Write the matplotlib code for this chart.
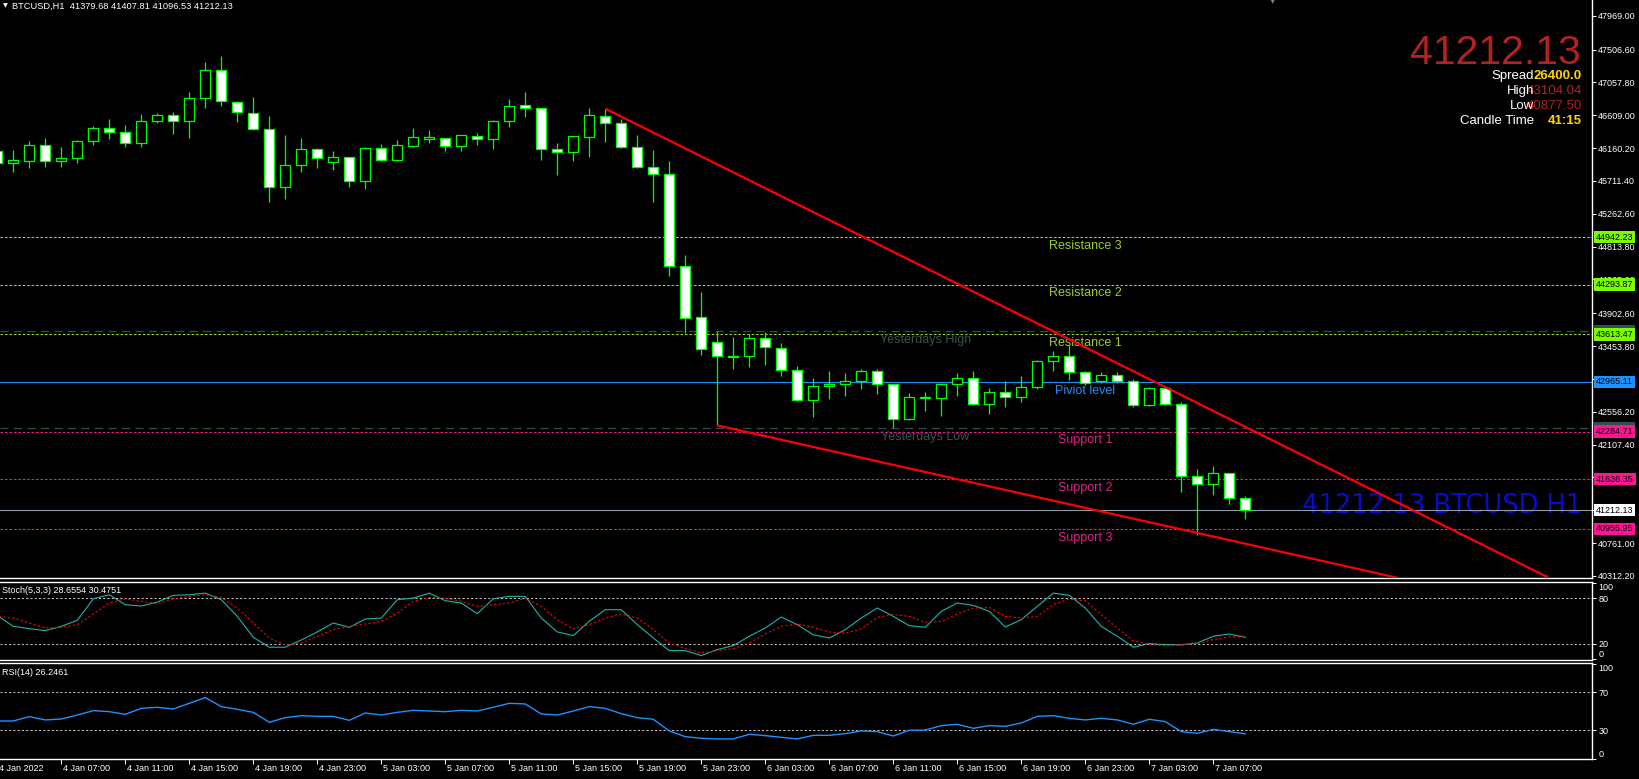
import numpy as np
import matplotlib
matplotlib.use('Agg')
import matplotlib.pyplot as plt
from matplotlib.transforms import blended_transform_factory

plt.rcParams['font.family'] = ['Liberation Sans', 'DejaVu Sans']

W, H = 1639, 779

# BTCUSD H1 candles, first bar = 4 Jan 2022 03:00
opens = [46116, 45952, 45979, 46198, 45979, 46020, 46253, 46430, 46376, 46225,
         46526, 46608, 46526, 46840, 47223, 46786, 46635, 46417, 45624, 45925,
         46143, 45966, 46034, 45706, 46157, 45993, 46184, 46290, 46294, 46184,
         46321, 46280, 46526, 46745, 46704, 46143, 46102, 46307, 46594, 46499,
         46171, 45897, 45802, 44544, 43847, 43506, 43314, 43314, 43560, 43424,
         43123, 42713, 42904, 42932, 42973, 43109, 42932, 42453, 42745, 42740,
         42932, 43014, 42658, 42822, 42754, 42891, 43246, 43314, 43096, 42973,
         43055, 42973, 42645, 42877, 42658, 41674, 41565, 41715, 41379.68]
highs = [46161, 46134, 46257, 46298, 46175, 46270, 46462, 46557, 46475, 46626,
         46639, 46653, 46926, 47336, 47418, 46803, 46858, 46598, 46339, 46298,
         46161, 46120, 46040, 46175, 46216, 46270, 46434, 46407, 46300, 46340,
         46362, 46544, 46831, 46926, 46710, 46225, 46325, 46708, 46698, 46553,
         46335, 46130, 45979, 44695, 44189, 43655, 43574, 43615, 43642, 43492,
         43178, 43014, 43114, 43082, 43137, 43137, 42940, 42809, 42822, 42940,
         43082, 43114, 42877, 42973, 43041, 43260, 43383, 43465, 43109, 43104.04,
         43100, 43000, 42891, 42891, 42686, 41770, 41815, 41720, 41407.81]
lows = [45915, 45837, 45892, 45905, 45905, 45960, 46206, 46288, 46179, 46179,
        46507, 46356, 46302, 46712, 46739, 46520, 46410, 45427, 45468, 45837,
        45892, 45864, 45632, 45605, 45985, 45985, 46180, 46234, 46124, 46124,
        46206, 46151, 46452, 46589, 46001, 45796, 45987, 46042, 46247, 46157,
        45890, 45427, 44416, 43629, 43328, 42370, 43137, 43164, 43191, 43041,
        42699, 42489, 42727, 42776, 42872, 42803, 42331, 42445, 42571, 42503,
        42776, 42645, 42530, 42626, 42686, 42863, 43109, 42986, 42918, 42945,
        42945, 42617, 42640, 42645, 41464, 40877.50, 41415, 41292, 41096.53]
closes = [45952, 45993, 46198, 45979, 46020, 46253, 46430, 46376, 46225, 46526,
          46608, 46526, 46840, 47223, 46799, 46649, 46417, 45624, 45925, 46143,
          46020, 46034, 45706, 46157, 45993, 46198, 46307, 46305, 46184, 46335,
          46280, 46526, 46731, 46704, 46143, 46102, 46321, 46608, 46499, 46171,
          45897, 45802, 44544, 43834, 43410, 43314, 43310, 43560, 43437, 43123,
          42713, 42904, 42932, 42973, 43109, 42932, 42453, 42754, 42748, 42932,
          43014, 42658, 42822, 42754, 42891, 43246, 43314, 43096, 42945, 43055,
          42973, 42645, 42877, 42658, 41674, 41565, 41715, 41374, 41212.13]

stoch_main = [56.9, 43.0, 40.0, 37.4, 43.0, 50.9, 79.1, 84.3, 71.3, 69.6,
              74.8, 83.5, 84.3, 86.5, 77.8, 56.1, 28.7, 15.7, 15.7, 25.2,
              35.7, 47.4, 41.7, 52.6, 53.9, 77.8, 80.0, 86.5, 76.5, 73.5,
              59.6, 79.1, 82.2, 82.2, 53.9, 35.7, 30.9, 49.6, 64.8, 64.8,
              45.2, 27.8, 11.3, 11.3, 4.8, 12.6, 17.8, 30.0, 40.9, 55.2,
              45.2, 32.0, 27.8, 38.7, 53.9, 67.0, 56.1, 43.9, 41.7, 62.6,
              73.5, 70.4, 62.6, 42.2, 51.7, 69.1, 86.5, 83.5, 67.0, 43.0,
              30.0, 15.7, 20.4, 19.1, 18.7, 21.3, 30.0, 33.0, 28.6554]
stoch_signal = [56.1, 53.9, 47.4, 40.9, 41.7, 45.2, 59.1, 73.5, 79.1, 75.7,
                72.6, 79.1, 82.2, 84.3, 80.9, 67.0, 47.4, 27.8, 18.3, 21.3,
                30.0, 38.7, 43.0, 46.1, 49.6, 60.4, 75.7, 80.9, 80.0, 75.7,
                69.1, 71.3, 73.5, 80.0, 69.1, 51.7, 39.6, 45.2, 53.9, 59.1,
                53.9, 38.7, 21.3, 13.9, 8.3, 11.3, 13.9, 21.3, 33.0, 43.0,
                46.1, 41.7, 35.7, 34.3, 39.6, 54.8, 58.3, 56.1, 48.3, 49.6,
                59.1, 67.0, 67.8, 56.1, 53.9, 56.1, 71.3, 78.7, 76.5, 58.3,
                40.9, 24.3, 19.1, 17.8, 19.1, 20.4, 25.7, 29.1, 30.4751]
rsi = [39.8, 39.8, 44.4, 40.9, 41.9, 46.1, 50.7, 49.6, 46.8, 53.1,
       54.2, 52.4, 58.4, 64.4, 54.9, 52.1, 48.9, 38.4, 43.3, 45.4,
       44.7, 44.7, 40.5, 48.2, 46.1, 48.9, 51.0, 50.3, 49.6, 51.0,
       50.3, 54.2, 58.4, 57.7, 47.2, 46.1, 50.3, 54.9, 53.1, 47.5,
       43.3, 41.6, 29.3, 23.3, 21.6, 20.9, 20.9, 25.8, 24.4, 22.6,
       20.9, 24.7, 24.7, 26.5, 29.3, 28.6, 24.0, 30.0, 30.3, 34.9,
       36.3, 32.1, 34.9, 34.2, 37.7, 44.7, 45.4, 42.6, 40.9, 42.6,
       40.9, 36.3, 41.6, 39.1, 28.6, 26.8, 31.0, 28.6, 26.2461]

price_ticks = [47969.00, 47506.60, 47057.80, 46609.00, 46160.20, 45711.40,
               45262.60, 44813.80, 44365.00, 43902.60, 43453.80, 43005.00,
               42556.20, 42107.40, 41658.60, 41209.80, 40761.00, 40312.20]

time_pos = list(range(0, 77, 4))
time_labels = ['4 Jan 2022', '4 Jan 07:00', '4 Jan 11:00', '4 Jan 15:00', '4 Jan 19:00',
               '4 Jan 23:00', '5 Jan 03:00', '5 Jan 07:00', '5 Jan 11:00', '5 Jan 15:00',
               '5 Jan 19:00', '5 Jan 23:00', '6 Jan 03:00', '6 Jan 07:00', '6 Jan 11:00',
               '6 Jan 15:00', '6 Jan 19:00', '6 Jan 23:00', '7 Jan 03:00', '7 Jan 07:00']

# pivot levels
level_names = ['Resistance 3', 'Resistance 2', 'Resistance 1', 'Piviot level',
               'Support 1', 'Support 2', 'Support 3']
level_values = [44942.23, 44293.87, 43613.47, 42965.11, 42284.71, 41636.35, 40955.95]
yest_high, yest_low = 43655.0, 42330.0
last_price = 41212.13

# trend lines (bar index, price)
upper_x, upper_y = [38, 96.9], [46698, 40296]
lower_x, lower_y = [45, 87.5], [42370, 40288]

GREEN = '#00FF00'
RES_C, RES_BOX = '#9ACD32', '#7CFC00'
SUP_C, SUP_BOX = '#E0208A', '#FF1493'
PIV_C = '#1E90FF'
YEST_C = '#2F4F4F'
FS = 6.5

fig = plt.figure(figsize=(W / 100, H / 100), dpi=100, facecolor='black')


def panel(top, bottom):
    a = fig.add_axes([0, 1 - bottom / H, 1592 / W, (bottom - top) / H])
    a.set_facecolor('black')
    a.set_xlim(0.169, 99.67)
    for s in a.spines.values():
        s.set_color('white')
        s.set_linewidth(1)
    a.spines['left'].set_visible(False)
    a.yaxis.tick_right()
    a.tick_params(axis='y', colors='white', labelsize=FS, length=3, width=0.7, pad=1.5)
    a.tick_params(axis='x', bottom=False, labelbottom=False)
    return a


ax = panel(0, 578)
ax.spines['top'].set_visible(False)
ax_st = panel(582, 660)
ax_rsi = panel(663, 759)

# ---- main price panel
ax.set_ylim(40284.7, 48183.6)
ax.set_yticks(price_ticks)
ax.set_yticklabels(['%.2f' % v for v in price_ticks])

idx = np.arange(len(closes))
o, h, l, c = map(np.array, (opens, highs, lows, closes))
bull = c >= o
ax.vlines(idx, l, h, color=GREEN, lw=0.9, zorder=3)
ax.bar(idx, np.maximum(np.abs(c - o), 9), bottom=np.minimum(o, c), width=0.62,
       color=np.where(bull, 'black', 'white'), edgecolor=GREEN, linewidth=0.9, zorder=4)

tr = blended_transform_factory(ax.transAxes, ax.transData)
for name, v in zip(level_names, level_values):
    if name.startswith('Resistance'):
        lc, bc, ls = RES_C, RES_BOX, (0, (2.4, 1.6))
    elif name.startswith('Support'):
        lc, bc, ls = SUP_C, SUP_BOX, (0, (2.4, 1.6))
    else:
        lc, bc, ls = PIV_C, PIV_C, '-'
    ax.axhline(v, color=lc, ls=ls, lw=0.8, zorder=2)
    ax.annotate(name, xy=(68, v), xytext=(0, -2), textcoords='offset points',
                ha='center', va='top', color=lc, fontsize=9, zorder=5)
    ax.text(1.0025, v, '%.2f' % v, transform=tr, ha='left', va='center', fontsize=FS,
            color='black', clip_on=False, zorder=7,
            bbox=dict(boxstyle='square,pad=0.2', fc=bc, ec='none'))

for v, name in [(yest_high, 'Yesterdays High'), (yest_low, 'Yesterdays Low')]:
    ax.axhline(v, color=YEST_C, ls=(0, (6.5, 4.3)), lw=0.9, zorder=2)
    ax.annotate(name, xy=(58, v), xytext=(0, -2), textcoords='offset points',
                ha='center', va='top', color='#3B5252', fontsize=9, zorder=5)
    ax.text(1.0025, v, '%.2f' % v, transform=tr, ha='left', va='center', fontsize=FS,
            color='black', clip_on=False, zorder=6,
            bbox=dict(boxstyle='square,pad=0.2', fc=YEST_C, ec='none'))

ax.axhline(last_price, color='#8F9BA6', lw=0.8, zorder=2)
ax.text(1.0025, last_price, '%.2f' % last_price, transform=tr, ha='left', va='center',
        fontsize=FS, color='black', clip_on=False, zorder=7,
        bbox=dict(boxstyle='square,pad=0.2', fc='white', ec='none'))

ax.plot(upper_x, upper_y, color='#FF0000', lw=1.6, zorder=5, solid_capstyle='butt')
ax.plot(lower_x, lower_y, color='#FF0000', lw=1.6, zorder=5, solid_capstyle='butt')

ax.text(1582 / 1592, 1 - 513 / 578, '%.2f BTCUSD H1' % last_price,
        transform=ax.transAxes, ha='right', va='baseline', fontsize=18.5,
        color='#0A0ACD', zorder=1, family='DejaVu Sans')

# ---- stochastic
ax_st.set_ylim(-1, 101)
ax_st.plot(idx, stoch_main, color='#20B2AA', lw=0.8, zorder=3)
ax_st.plot(idx, stoch_signal, color='#FF0000', lw=0.8, ls=(0, (2, 2)), zorder=3)
for v in (80, 20):
    ax_st.axhline(v, color='#C8C8C8', ls=(0, (2.2, 2.2)), lw=0.7, zorder=1)
ax_st.set_yticks([100, 80, 20, 0])
ax_st.set_yticklabels(['100', '80', '20', '0'])
ax_st.text(0.001, 0.89, 'Stoch(5,3,3) 28.6554 30.4751', transform=ax_st.transAxes,
           color='white', fontsize=FS, va='center', ha='left')

# ---- RSI
ax_rsi.set_ylim(-0.2, 100.8)
ax_rsi.plot(idx, rsi, color='#1E90FF', lw=1.0, zorder=3)
for v in (70, 30):
    ax_rsi.axhline(v, color='#C8C8C8', ls=(0, (2.2, 2.2)), lw=0.7, zorder=1)
ax_rsi.set_yticks([100, 70, 30, 0])
ax_rsi.set_yticklabels(['100', '70', '30', '0'])
ax_rsi.text(0.001, 0.9, 'RSI(14) 26.2461', transform=ax_rsi.transAxes,
            color='white', fontsize=FS, va='center', ha='left')

for a in (ax_st, ax_rsi):
    labs = a.get_yticklabels()
    labs[0].set_va('top')
    labs[-1].set_va('bottom')

ax_rsi.set_xticks(time_pos[1:])
ax_rsi.tick_params(axis='x', bottom=True, labelbottom=False, length=3.5, width=0.7,
                   color='white', direction='out')
trx = blended_transform_factory(ax_rsi.transData, ax_rsi.transAxes)
for p, lab in zip(time_pos, time_labels):
    ax_rsi.text(p + 0.1, -0.095, lab, transform=trx, ha='left', va='center',
                color='white', fontsize=FS, clip_on=False)

# ---- header and info block


def fx(x):
    return x / W


def fy(y):
    return 1 - y / H


fig.text(fx(5), fy(6), '\u25BC', color='white', fontsize=4.5, ha='center', va='center',
         family='DejaVu Sans')
fig.text(fx(12), fy(6.5), 'BTCUSD,H1  41379.68 41407.81 41096.53 41212.13',
         color='white', fontsize=6.7, ha='left', va='center')
fig.text(fx(1273), fy(1.5), '\u25BC', color='#808080', fontsize=5, ha='center',
         va='center', family='DejaVu Sans')

fig.text(fx(1581), fy(64), '%.2f' % last_price, color='#B22222', fontsize=29.5,
         ha='right', va='baseline')
info_labels = ['Spread', 'High', 'Low', 'Candle Time']
info_values = ['26400.0', '43104.04', '40877.50', '41:15']
info_colors = ['#FFD700', '#B22222', '#B22222', '#FFD700']
info_base = [79, 94, 109, 124]
for lab, val, col, yb in zip(info_labels, info_values, info_colors, info_base):
    fig.text(fx(1582), fy(yb), val, color=col, fontsize=9.5, ha='right', va='baseline',
             fontweight='bold' if col == '#FFD700' else 'normal', zorder=3)
    fig.text(fx(1534), fy(yb), lab, color='white', fontsize=9.5, ha='right',
             va='baseline', zorder=4)

fig.savefig('out.png', dpi=100, facecolor='black')
